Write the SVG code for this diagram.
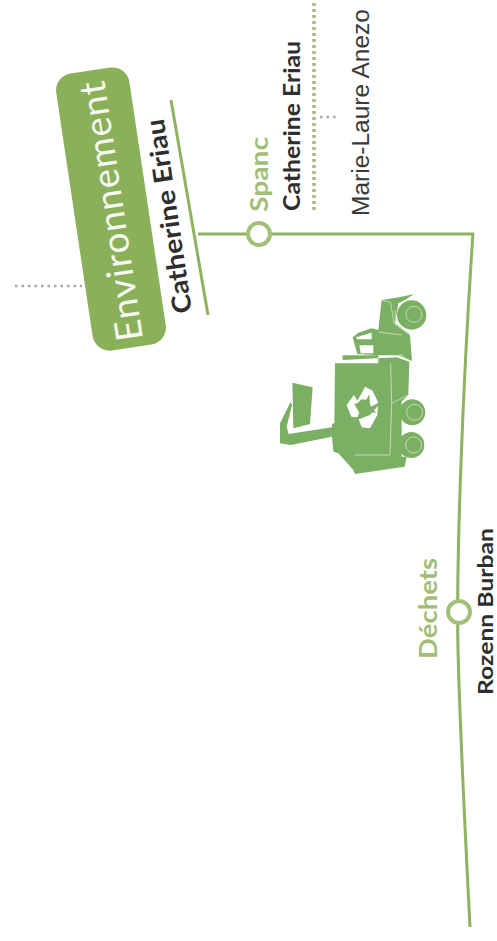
<svg xmlns="http://www.w3.org/2000/svg" width="497" height="941" viewBox="0 0 497 941">
<style>
.line{fill:none;stroke:#8fb35f;stroke-width:3}
.ring{fill:#fff;stroke:#a3c07a;stroke-width:4}
.dots{fill:none;stroke:#a8a8a0;stroke-width:2.5;stroke-dasharray:2.5 4}
.gdots{fill:none;stroke:#a9bb82;stroke-width:3.5;stroke-dasharray:3 3}
text{font-family:Lato,"Open Sans","Liberation Sans",sans-serif}
.name{fill:#2e2e2e;font-size:22px;font-weight:700}
.head{fill:#a2bd76;font-size:25px;font-weight:700}
.t{fill:#7bb064}
.w{fill:none;stroke:#cfe3bd;stroke-width:2.5}
</style>
<rect width="497" height="941" fill="#fff"/>
<g id="connectors">
<path class="line" d="M198 234H248M271 234H474"/>
<path class="line" d="M473 233C463 380 456 560 458 650C460 730 465 830 470 927"/>
<path class="line" d="M171 100L208 315"/>
<path class="gdots" d="M314 3V212"/>
<path class="dots" d="M320 117H338"/>
<path class="dots" d="M15 286H82"/>
</g>
<g id="environnement">
<rect x="-140" y="-37" width="280" height="74" rx="17" fill="#8ab05a" transform="translate(111 209) rotate(81.5)"/>
<text transform="translate(143 339) rotate(-98.5)" fill="#f6f9ef" font-size="37" textLength="264" lengthAdjust="spacing" letter-spacing="2">Environnement</text>
<text class="name" transform="translate(192 312) rotate(-98.3)" textLength="196" lengthAdjust="spacingAndGlyphs" style="font-size:26px">Catherine Eriau</text>
</g>
<g id="spanc">
<circle class="ring" cx="259" cy="234" r="11"/>
<text class="head" transform="translate(268 212) rotate(-90)" textLength="75" lengthAdjust="spacingAndGlyphs">Spanc</text>
<text class="name" transform="translate(300 211) rotate(-90)" textLength="170" lengthAdjust="spacingAndGlyphs">Catherine Eriau</text>
</g>
<g id="marie-laure">
<text transform="translate(369 216) rotate(-90)" fill="#3a3a3a" font-size="23" textLength="207" lengthAdjust="spacingAndGlyphs" style="font-family:'Liberation Sans',Arial,sans-serif">Marie-Laure Anezo</text>
</g>
<g id="truck" transform="translate(270 280) scale(.3333)">
<path class="t" d="M335 60L395 50L432 42L405 60L385 70L375 130L420 165L426 243L385 226L325 226V150L305 145L265 158L248 172L262 222L325 226H218V240L380 232L418 245L415 345L395 365V530L410 530L404 560L255 582L250 570L205 520L190 515L186 470L62 495L30 490V430L62 365L66 376L50 440L56 462L186 442V432L193 430L195 250H325V150Z"/>
<path fill="#fff" d="M258 172L305 158V178H262ZM268 196H310V220H272Z"/>
<path class="t" d="M67 308L128 322L120 432L70 445Z"/>
<circle class="t" cx="425" cy="105" r="44"/>
<circle class="w" cx="432" cy="103" r="24"/>
<circle class="t" cx="427" cy="397" r="39"/>
<circle class="w" cx="434" cy="397" r="24"/>
<circle class="t" cx="424" cy="495" r="39"/>
<circle class="w" cx="431" cy="495" r="24"/>
<path class="w" d="M335 60L362 68L372 130L420 165M325 156L395 165M375 90Q372 140 418 160M385 228Q395 218 405 235M362 250L365 370L360 525M365 370L415 345M255 525H360"/>
<path fill="#fff" d="M230 375L252 345L262 362L275 340L285 320L308 332L325 368L303 380L295 360L275 358L255 376L268 398L262 412L244 410ZM266 418L300 405L324 378L322 405L300 445L275 442Z"/>
<path class="t" d="M252 372L284 368L298 342L300 375L318 398L290 396L270 418L272 392Z"/>
</g>
<g id="dechets">
<circle class="ring" cx="459" cy="612" r="11"/>
<text class="head" transform="translate(437 659) rotate(-90)" textLength="101" lengthAdjust="spacingAndGlyphs">Déchets</text>
<text class="name" transform="translate(493 695) rotate(-90)" textLength="167" lengthAdjust="spacingAndGlyphs" style="font-size:20px">Rozenn Burban</text>
</g>
</svg>
